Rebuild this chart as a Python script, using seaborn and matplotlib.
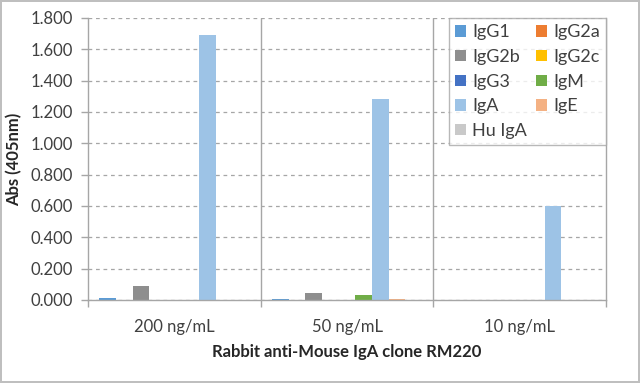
import matplotlib
matplotlib.use("Agg")
import matplotlib.pyplot as plt
import seaborn as sns
import pandas as pd

concentrations = ["200 ng/mL", "50 ng/mL", "10 ng/mL"]
isotypes = ["IgG1", "IgG2a", "IgG2b", "IgG2c", "IgG3", "IgM", "IgA", "IgE", "Hu IgA"]
vals_200 = [0.012, 0.001, 0.092, 0.001, 0.001, 0.002, 1.690, 0.002, 0.001]
vals_50 = [0.006, 0.001, 0.044, 0.001, 0.001, 0.032, 1.280, 0.004, 0.000]
vals_10 = [0.001, 0.000, 0.001, 0.000, 0.001, -0.004, 0.598, 0.001, 0.000]
colors = ["#5B9BD5", "#ED7D31", "#8E8E8E", "#FFC000", "#4472C4", "#70AD47",
          "#9DC3E6", "#F4B183", "#C9C9C9"]

rows = []
for conc, vals in zip(concentrations, [vals_200, vals_50, vals_10]):
    for iso, v in zip(isotypes, vals):
        rows.append({"conc": conc, "iso": iso, "abs": v})
df = pd.DataFrame(rows)

sns.set_theme(style="white")
plt.rcParams['font.family'] = ['Lato', 'DejaVu Sans']

fig = plt.figure(figsize=(6.4, 3.83), dpi=100)
fig.patch.set_edgecolor("#BFBFBF")
fig.patch.set_linewidth(1.5)
ax = fig.add_axes([88/640, 1-300/383, (606-88)/640, (300-18)/383])

sns.barplot(data=df, x="conc", y="abs", hue="iso", order=concentrations,
            hue_order=isotypes, palette=colors, width=0.87, dodge=True,
            saturation=1, errorbar=None, ax=ax, linewidth=0)

ax.set_ylim(0, 1.8)
ax.set_xlim(-0.5, 2.5)
ax.set_yticks([i * 0.2 for i in range(10)])
ax.set_yticklabels([f"{i*0.2:.3f}" for i in range(10)], fontsize=12, color="#404040")
ax.tick_params(axis="x", labelsize=12, labelcolor="#404040", length=0, pad=14)
ax.tick_params(axis="y", length=5, width=1, color="#A6A6A6", direction="out", left=True, pad=6)
ax.set_xticks([-0.5, 0.5, 1.5, 2.5], minor=True)
ax.tick_params(axis="x", which="minor", length=5, width=1, color="#A6A6A6", bottom=True, direction="out")

ax.yaxis.grid(True, color="#A6A6A6", linestyle=(0, (3, 3)), linewidth=0.9)
ax.set_axisbelow(True)
for x in [0.5, 1.5]:
    ax.axvline(x, color="#A6A6A6", linewidth=1, zorder=0.5)

for s in ["left", "bottom", "right"]:
    ax.spines[s].set_visible(True)
    ax.spines[s].set_color("#A6A6A6")
    ax.spines[s].set_linewidth(1)
ax.spines["top"].set_visible(False)

ax.set_ylabel("Abs (405nm)", fontsize=12, fontweight="bold", color="#262626", labelpad=6)
ax.set_xlabel("Rabbit anti-Mouse IgA clone RM220", fontsize=12, fontweight="bold",
              color="#262626", labelpad=6)

handles, labels = ax.get_legend_handles_labels()
order = [0, 2, 4, 6, 8, 1, 3, 5, 7]
leg = ax.legend([handles[i] for i in order], [labels[i] for i in order],
                loc="upper right", ncol=2, fontsize=13, frameon=True, fancybox=False,
                edgecolor="#A6A6A6", handlelength=0.6, handleheight=0.6,
                handletextpad=0.35, columnspacing=0.5, labelspacing=0.48,
                borderpad=0.35, borderaxespad=0, bbox_to_anchor=(1.0, 1.0))
leg.get_frame().set_linewidth(1)
for t in leg.get_texts():
    t.set_color("#404040")

fig.savefig("out.png", dpi=100)
